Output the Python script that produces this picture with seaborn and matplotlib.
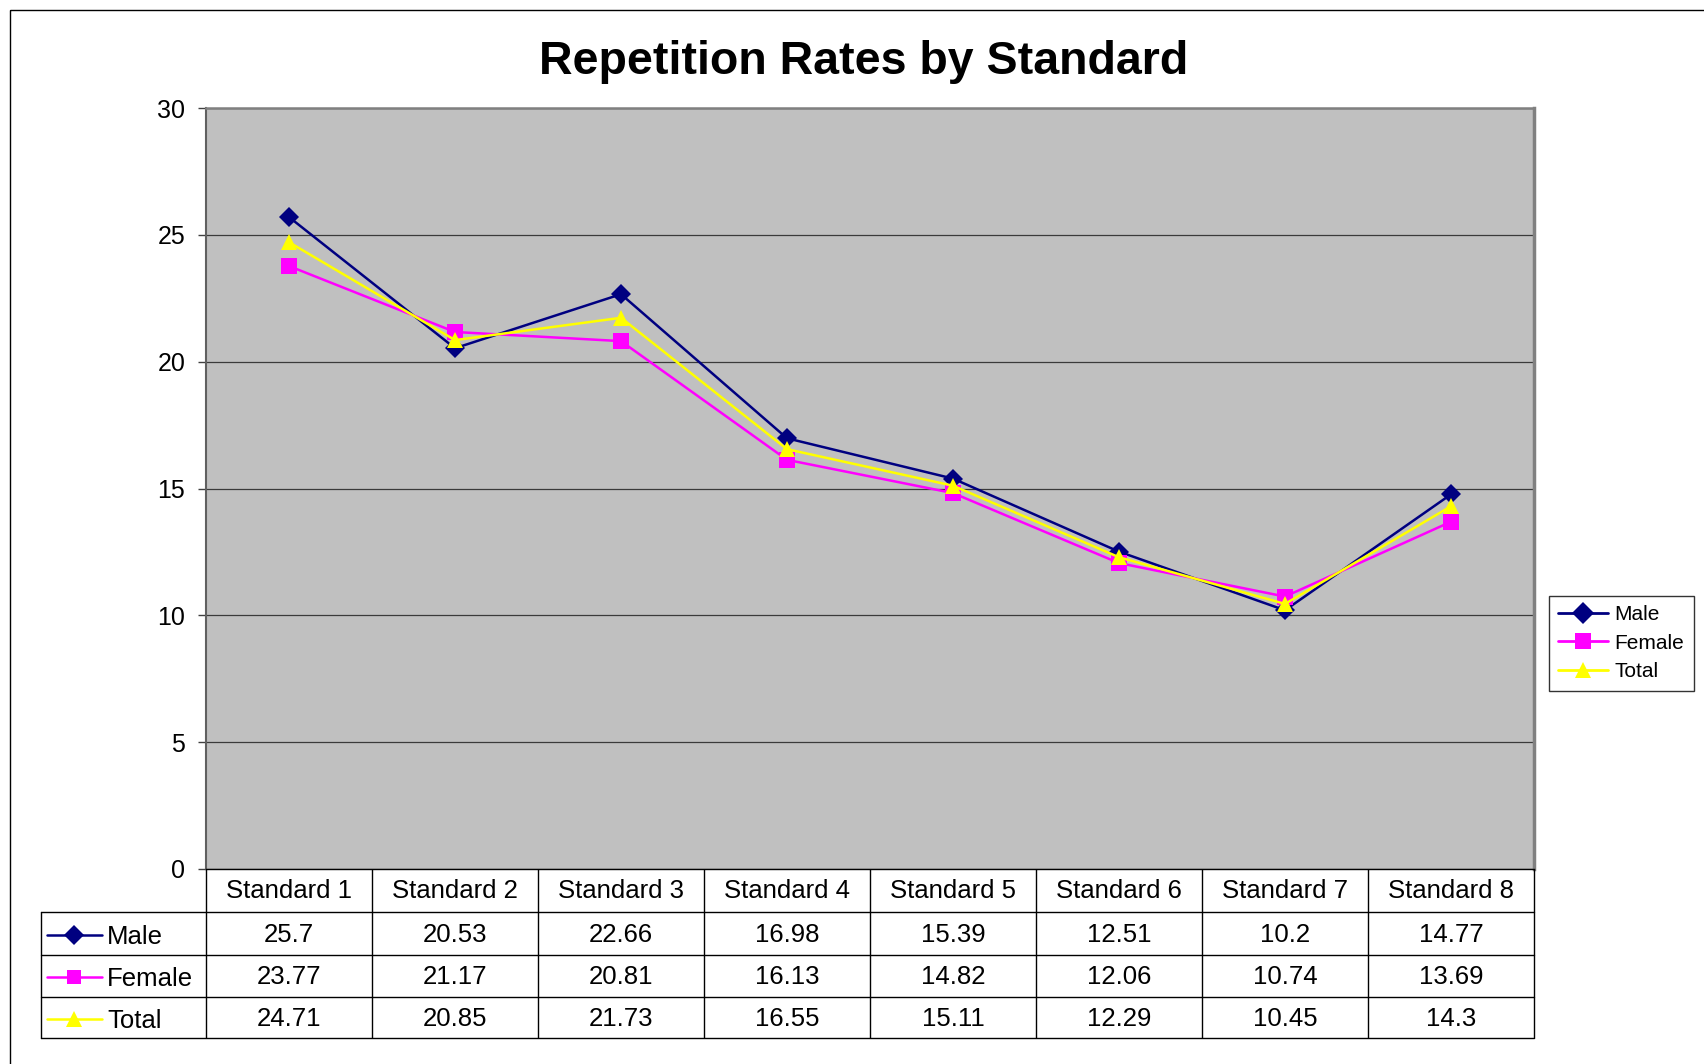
import matplotlib
matplotlib.use("Agg")
import matplotlib.pyplot as plt
from matplotlib.lines import Line2D
from matplotlib.patches import Rectangle
import seaborn as sns
import pandas as pd

standards = ["Standard 1", "Standard 2", "Standard 3", "Standard 4",
             "Standard 5", "Standard 6", "Standard 7", "Standard 8"]
male = [25.7, 20.53, 22.66, 16.98, 15.39, 12.51, 10.2, 14.77]
female = [23.77, 21.17, 20.81, 16.13, 14.82, 12.06, 10.74, 13.69]
total = [24.71, 20.85, 21.73, 16.55, 15.11, 12.29, 10.45, 14.3]
series_names = ["Male", "Female", "Total"]
yticks = [0, 5, 10, 15, 20, 25, 30]

colors = {"Male": "#000080", "Female": "#FF00FF", "Total": "#FFFF00"}
markers = {"Male": "D", "Female": "s", "Total": "^"}
msizes = {"Male": 10, "Female": 11, "Total": 12}

sns.set_style("white")
plt.rcParams["font.family"] = ["Liberation Sans", "DejaVu Sans"]
plt.rcParams["text.color"] = "black"
plt.rcParams["axes.labelcolor"] = "black"
plt.rcParams["xtick.color"] = "black"
plt.rcParams["ytick.color"] = "black"

df = pd.concat([
    pd.DataFrame({"Standard": standards, "Rate": vals, "Series": name})
    for name, vals in zip(series_names, [male, female, total])
], ignore_index=True)

W, H = 1704, 1064
fig = plt.figure(figsize=(W / 100, H / 100), dpi=100)
fig.patch.set_facecolor("white")

L, R, T, B = 206, 1534, 108, 869
ax = fig.add_axes([L / W, 1 - B / H, (R - L) / W, (B - T) / H])
ax.set_facecolor("#C0C0C0")

sns.lineplot(data=df, x="Standard", y="Rate", hue="Series", style="Series",
             hue_order=series_names, style_order=series_names,
             palette=colors, markers=markers, dashes=False, linewidth=1.8,
             markeredgewidth=0, sort=False, ax=ax)
for line in ax.lines:
    c = line.get_color()
    for name in series_names:
        if matplotlib.colors.to_hex(c).lower() == colors[name].lower():
            line.set_markersize(msizes[name])

ax.set_xlim(-0.5, len(standards) - 0.5)
ax.set_ylim(0, 30)
ax.set_yticks(yticks)
ax.yaxis.grid(True, color="#3a3a3a", linewidth=0.9)
ax.xaxis.grid(False)
ax.set_axisbelow(True)
ax.set_xlabel("")
ax.set_ylabel("")
ax.tick_params(axis="x", bottom=False, labelbottom=False)
ax.tick_params(axis="y", left=True, length=6, width=1, color="#404040",
               labelcolor="black", labelsize=18, pad=9)
for s in ["top", "right"]:
    ax.spines[s].set_color("#808080")
ax.spines["top"].set_linewidth(1.8)
ax.spines["right"].set_linewidth(2.5)
ax.spines["left"].set_color("#606060")
ax.spines["left"].set_linewidth(1.5)
ax.spines["bottom"].set_color("black")
ax.spines["bottom"].set_linewidth(1.0)

handles, labels = ax.get_legend_handles_labels()
if ax.get_legend() is not None:
    ax.get_legend().remove()
for h in handles:
    lab = h.get_label()
    h.set_markersize(11 if lab != "Total" else 12)
    h.set_linewidth(2)
leg = fig.legend(handles, labels, loc="upper left",
                 bbox_to_anchor=(1549 / W, 1 - 596 / H),
                 bbox_transform=fig.transFigure, fontsize=15, frameon=True,
                 fancybox=False, shadow=False, handlelength=2.4,
                 handletextpad=0.3, borderpad=0.45, labelspacing=0.45,
                 borderaxespad=0)
leg.get_frame().set_edgecolor("black")
leg.get_frame().set_linewidth(1.0)
for t in leg.get_texts():
    t.set_color("black")

fig.text(864 / W, 1 - 62 / H, "Repetition Rates by Standard",
         ha="center", va="center", fontsize=33.5, fontweight="bold",
         color="black")

# overlay for data table (pixel coordinates)
ov = fig.add_axes([0, 0, 1, 1])
ov.set_xlim(0, W)
ov.set_ylim(H, 0)
ov.axis("off")

ov.add_patch(Rectangle((10, 10), W + 50, H + 50, fill=False,
                       edgecolor="black", linewidth=1.0))

ncol = len(standards)
cw = (R - L) / ncol
row_edges = [869, 912, 955, 997, 1038]
tl = 41
lc = "black"
lw = 1.0
for i in range(ncol + 1):
    ov.plot([L + i * cw, L + i * cw], [row_edges[0], row_edges[-1]],
            color=lc, lw=lw, solid_capstyle="butt")
ov.plot([tl, tl], [row_edges[1], row_edges[-1]], color=lc, lw=lw)
for y in row_edges[1:]:
    ov.plot([tl, R], [y, y], color=lc, lw=lw)

for i, name in enumerate(standards):
    ov.text(L + (i + 0.5) * cw, (row_edges[0] + row_edges[1]) / 2 + 1, name,
            ha="center", va="center", fontsize=18.5, color="black")

for r, (name, vals) in enumerate(zip(series_names, [male, female, total])):
    yc = (row_edges[r + 1] + row_edges[r + 2]) / 2
    ov.add_line(Line2D([47, 102], [yc + 1, yc + 1], color=colors[name], lw=1.8))
    ov.add_line(Line2D([74], [yc + 1], color=colors[name], marker=markers[name],
                       markersize=10 if name != "Total" else 11,
                       markeredgewidth=0, linestyle="none"))
    ov.text(107, yc + 3, name, ha="left", va="center", fontsize=18.5,
            color="black")
    for i, v in enumerate(vals):
        ov.text(L + (i + 0.5) * cw, yc + 1, f"{v:g}", ha="center",
                va="center", fontsize=18.5, color="black")

fig.savefig("out.png", dpi=100)
